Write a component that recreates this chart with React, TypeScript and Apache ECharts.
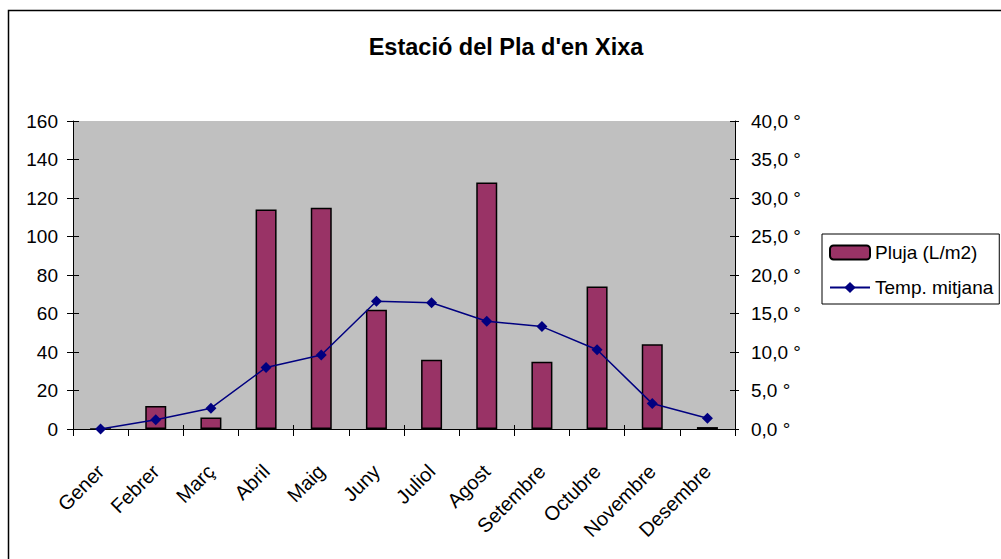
import React, { useEffect, useRef } from "react";
import * as echarts from "echarts";

const months = ["Gener", "Febrer", "Març", "Abril", "Maig", "Juny", "Juliol", "Agost", "Setembre", "Octubre", "Novembre", "Desembre"];
const rain = [0, 12, 6, 114, 115, 62, 36, 128, 35, 74, 44, 1];
const temp = [0, 1.2, 2.7, 8.0, 9.6, 16.6, 16.4, 14.0, 13.3, 10.3, 3.3, 1.4];
const title = "Estació del Pla d'en Xixa";
const rainName = "Pluja (L/m2)";
const tempName = "Temp. mitjana";

const FONT = "'Liberation Sans', Arial, sans-serif";

export default function App() {
  const ref = useRef<HTMLDivElement>(null);
  useEffect(() => {
    if (!ref.current) return;
    const chart = echarts.init(ref.current, null, { renderer: "svg" });
    const label = { color: "#000", fontSize: 19, fontFamily: FONT };
    const blackLine = { lineStyle: { color: "#000", width: 1 } };
    chart.setOption({
      animation: false,
      backgroundColor: "#fff",
      textStyle: { fontFamily: FONT, color: "#000" },
      graphic: [
        {
          type: "rect",
          shape: { x: 8.5, y: 10.5, width: 1200, height: 800 },
          style: { fill: "none", stroke: "#000", lineWidth: 1.5 },
          silent: true,
        },
        {
          type: "text",
          x: 506,
          y: 47,
          style: {
            text: title,
            fontSize: 23.5,
            fontWeight: "bold",
            fontFamily: FONT,
            fill: "#000",
            align: "center",
            verticalAlign: "middle",
          },
        },
      ],
      legend: {
        orient: "vertical",
        left: 822,
        top: 234,
        padding: [9, 6, 7, 7],
        itemGap: 16,
        itemWidth: 40,
        itemHeight: 14,
        backgroundColor: "#fff",
        borderColor: "#000",
        borderWidth: 1,
        borderRadius: 0,
        textStyle: { fontSize: 19, fontFamily: FONT, color: "#000" },
        data: [rainName, tempName],
      },
      grid: { left: 73, right: 266, top: 121, bottom: 130, show: true, backgroundColor: "#c0c0c0", borderWidth: 0 },
      xAxis: [
        {
          type: "category",
          data: months,
          position: "bottom",
          axisLine: blackLine,
          axisTick: { show: true, length: 7, ...blackLine },
          axisLabel: { ...label, fontSize: 20, rotate: 45, margin: 39, interval: 0 },
          splitLine: { show: false },
        },
        {
          type: "category",
          data: months,
          position: "bottom",
          axisLine: { show: false },
          axisTick: { show: true, inside: true, length: 4, ...blackLine },
          axisLabel: { show: false },
          splitLine: { show: false },
        },
      ],
      yAxis: [
        {
          type: "value",
          min: 0,
          max: 160,
          interval: 20,
          position: "left",
          axisLine: { show: true, ...blackLine },
          axisTick: { show: true, length: 6, ...blackLine },
          axisLabel: { ...label, margin: 15 },
          splitLine: { show: false },
        },
        {
          type: "value",
          min: 0,
          max: 40,
          interval: 5,
          position: "right",
          axisLine: { show: true, ...blackLine },
          axisTick: { show: true, length: 4, ...blackLine },
          axisLabel: {
            ...label,
            margin: 16,
            formatter: (v: number) => v.toFixed(1).replace(".", ",") + " °",
          },
          splitLine: { show: false },
        },
        {
          type: "value",
          min: 0,
          max: 160,
          interval: 20,
          position: "left",
          axisLine: { show: false },
          axisTick: { show: true, inside: true, length: 6, ...blackLine },
          axisLabel: { show: false },
          splitLine: { show: false },
        },
        {
          type: "value",
          min: 0,
          max: 40,
          interval: 5,
          position: "right",
          offset: 0,
          axisLine: { show: false },
          axisTick: { show: true, inside: true, length: 5, ...blackLine },
          axisLabel: { show: false },
          splitLine: { show: false },
        },
      ],
      series: [
        {
          name: rainName,
          type: "bar",
          data: rain,
          xAxisIndex: 0,
          yAxisIndex: 0,
          barWidth: 21,
          itemStyle: { color: "#993366", borderColor: "#000", borderWidth: 1.5 },
        },
        {
          name: tempName,
          type: "line",
          data: temp,
          xAxisIndex: 0,
          yAxisIndex: 1,
          symbol: "diamond",
          symbolSize: 11,
          lineStyle: { color: "#000080", width: 1.5 },
          itemStyle: { color: "#000080" },
        },
      ],
    });
    return () => chart.dispose();
  }, []);
  return <div ref={ref} style={{ position: "fixed", left: 0, top: 0, width: 1001, height: 559 }} />;
}
